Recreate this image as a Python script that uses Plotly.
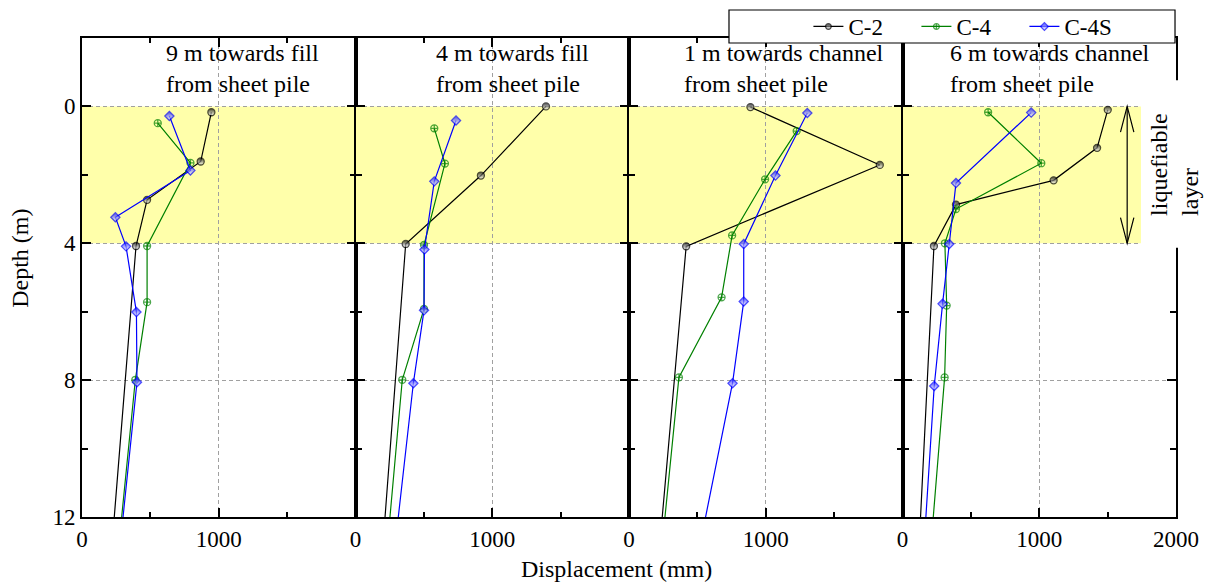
import plotly.graph_objects as go
from plotly.subplots import make_subplots

# Panel captions (location relative to the sheet pile)
panel_titles = [
    "9 m towards fill<br>from sheet pile",
    "4 m towards fill<br>from sheet pile",
    "1 m towards channel<br>from sheet pile",
    "6 m towards channel<br>from sheet pile",
]

series_names = ["C-2", "C-4", "C-4S"]

# C-2: depth (m) and displacement (mm), one list per panel
c2_depth = [
    [0.17, 1.61, 2.73, 4.08, 12],
    [0.0, 2.02, 4.02, 12],
    [0.02, 1.71, 4.09, 12],
    [0.10, 1.21, 2.16, 2.87, 4.08, 12],
]
c2_disp = [
    [946, 868, 476, 395, 236],
    [1393, 917, 367, 216],
    [888, 1834, 418, 243],
    [1501, 1423, 1105, 391, 230, 132],
]

# C-4
c4_depth = [
    [0.49, 1.65, 4.08, 5.72, 7.99, 12],
    [0.64, 1.67, 4.05, 5.92, 7.99, 12],
    [0.72, 2.13, 3.77, 5.58, 7.92, 12],
    [0.17, 1.66, 3.0, 4.0, 5.82, 7.92, 12],
]
c4_disp = [
    [554, 793, 476, 476, 390, 290],
    [576, 654, 501, 501, 342, 252],
    [1226, 995, 754, 677, 365, 263],
    [626, 1015, 391, 310, 323, 308, 225],
]

# C-4S
c4s_depth = [
    [0.28, 1.87, 3.24, 4.09, 6.01, 8.06, 12],
    [0.41, 2.19, 4.18, 5.96, 8.09, 12],
    [0.19, 2.02, 4.02, 5.70, 8.09, 12],
    [0.18, 2.24, 4.02, 5.77, 8.17, 12],
]
c4s_disp = [
    [639, 793, 244, 322, 398, 402, 300],
    [735, 576, 504, 501, 423, 313],
    [1304, 1071, 839, 839, 757, 560],
    [941, 391, 342, 293, 232, 171],
]

# Liquefiable layer extent (m)
liq_top, liq_bottom = 0, 4

x_ticks = [0, 1000, 2000]
y_ticks = [0, 4, 8, 12]

FONT = "Liberation Serif"
styles = {
    "C-2": dict(color="black", symbol="circle", size=7, grad=True),
    "C-4": dict(color="#008000", symbol="circle-cross-open", size=7, grad=False),
    "C-4S": dict(color="#0000ff", symbol="diamond", size=7, grad=True),
}

fig = make_subplots(rows=1, cols=4, shared_yaxes=True, horizontal_spacing=0)

all_series = [
    ("C-2", c2_depth, c2_disp),
    ("C-4", c4_depth, c4_disp),
    ("C-4S", c4s_depth, c4s_disp),
]

for p in range(4):
    for name, depths, disps in all_series:
        st = styles[name]
        d = depths[p]
        # no marker on the point at the bottom edge of the plot
        sizes = [st["size"] if v < 12 else 0 for v in d]
        marker = dict(symbol=st["symbol"], size=sizes, color=st["color"],
                      line=dict(color=st["color"], width=1.3))
        if st["grad"]:
            marker["gradient"] = dict(type="vertical", color="white")
        fig.add_trace(
            go.Scatter(
                x=disps[p], y=d, mode="lines+markers", name=name,
                line=dict(color=st["color"], width=1.2),
                marker=marker, showlegend=(p == 0),
            ),
            row=1, col=p + 1,
        )

shapes = []
annotations = []
for p in range(4):
    xr = "x" if p == 0 else f"x{p + 1}"
    yr = "y" if p == 0 else f"y{p + 1}"
    shapes.append(dict(type="rect", xref=xr, yref=yr, x0=0, x1=2000,
                       y0=liq_top, y1=liq_bottom, fillcolor="#ffffaa",
                       line=dict(width=0), layer="below"))
    annotations.append(dict(xref=xr, yref=yr, x=[600, 575, 385, 330][p], y=-1.12,
                            text=panel_titles[p], showarrow=False,
                            xanchor="left", yanchor="middle", align="left",
                            font=dict(family=FONT, size=24, color="black")))

# white patch behind the side label
shapes.append(dict(type="rect", xref="paper", yref="paper", x0=0.968, x1=1.05,
                   y0=0.562, y1=0.912, fillcolor="white", line=dict(width=0),
                   layer="above"))
# double-headed arrow marking the liquefiable layer
ax = 1643
shapes.append(dict(type="line", xref="x4", yref="y4", x0=ax, x1=ax,
                   y0=liq_top, y1=liq_bottom, line=dict(color="black", width=1.2)))
shapes.append(dict(type="path", xref="x4", yref="y4",
                   path=f"M {ax-49} {liq_top+0.75} L {ax} {liq_top} L {ax+49} {liq_top+0.75}",
                   line=dict(color="black", width=1.2)))
shapes.append(dict(type="path", xref="x4", yref="y4",
                   path=f"M {ax-49} {liq_bottom-0.75} L {ax} {liq_bottom} L {ax+49} {liq_bottom-0.75}",
                   line=dict(color="black", width=1.2)))
# legend frame
shapes.append(dict(type="rect", xref="paper", yref="paper", x0=0.5914, x1=0.9991,
                   y0=0.9896, y1=1.0585, fillcolor="white",
                   line=dict(color="black", width=1.2), layer="above"))

annotations.append(dict(xref="paper", yref="paper", x=0.999, y=0.737,
                        text="liquefiable<br>layer", textangle=-90, showarrow=False,
                        align="left", xanchor="center", yanchor="middle",
                        font=dict(family=FONT, size=24, color="black")))
annotations.append(dict(xref="paper", yref="paper", x=0.489, y=-0.1086,
                        text="Displacement (mm)", showarrow=False,
                        xanchor="center", yanchor="middle",
                        font=dict(family=FONT, size=24, color="black")))
annotations.append(dict(xref="paper", yref="paper", x=-0.0567, y=0.541,
                        text="Depth (m)", textangle=-90, showarrow=False,
                        xanchor="center", yanchor="middle",
                        font=dict(family=FONT, size=24, color="black")))

grid_style = dict(showgrid=True, gridcolor="#a0a0a0", gridwidth=1, griddash="4px,3px")
for p in range(4):
    ticktext = ["0", "1000", "2000"] if p == 3 else ["0", "1000", ""]
    fig.update_xaxes(
        range=[0, 2000], tickvals=x_ticks, ticktext=ticktext,
        ticks="inside", ticklen=9, tickwidth=2, tickcolor="black",
        minor=dict(dtick=500, tick0=0, ticks="inside", ticklen=5, tickwidth=2,
                   tickcolor="black", showgrid=False),
        showline=True, linecolor="black", linewidth=2, mirror="allticks",
        zeroline=False, tickfont=dict(family=FONT, size=23, color="black"),
        **grid_style, row=1, col=p + 1,
    )
    fig.update_yaxes(
        range=[12, -2], tickvals=y_ticks, ticktext=[str(v) for v in y_ticks],
        ticks="inside", ticklen=9, tickwidth=2, tickcolor="black",
        minor=dict(dtick=2, tick0=0, ticks="inside", ticklen=6, tickwidth=2,
                   tickcolor="black", showgrid=False),
        showline=True, linecolor="black", linewidth=2, mirror="allticks",
        zeroline=False, showticklabels=(p == 0),
        tickfont=dict(family=FONT, size=23, color="black"),
        **grid_style, row=1, col=p + 1,
    )

fig.update_layout(
    width=1208, height=586,
    margin=dict(l=82, r=32, t=38, b=69, autoexpand=False),
    paper_bgcolor="white", plot_bgcolor="white",
    font=dict(family=FONT, size=22, color="black"),
    shapes=shapes, annotations=annotations,
    legend=dict(orientation="h", x=0.664, y=1.024, xanchor="left", yanchor="middle",
                bgcolor="rgba(0,0,0,0)", borderwidth=0,
                font=dict(family=FONT, size=23, color="black"),
                itemwidth=30, entrywidth=63, entrywidthmode="pixels",
                tracegroupgap=0),
)

fig.write_html("out.html")
